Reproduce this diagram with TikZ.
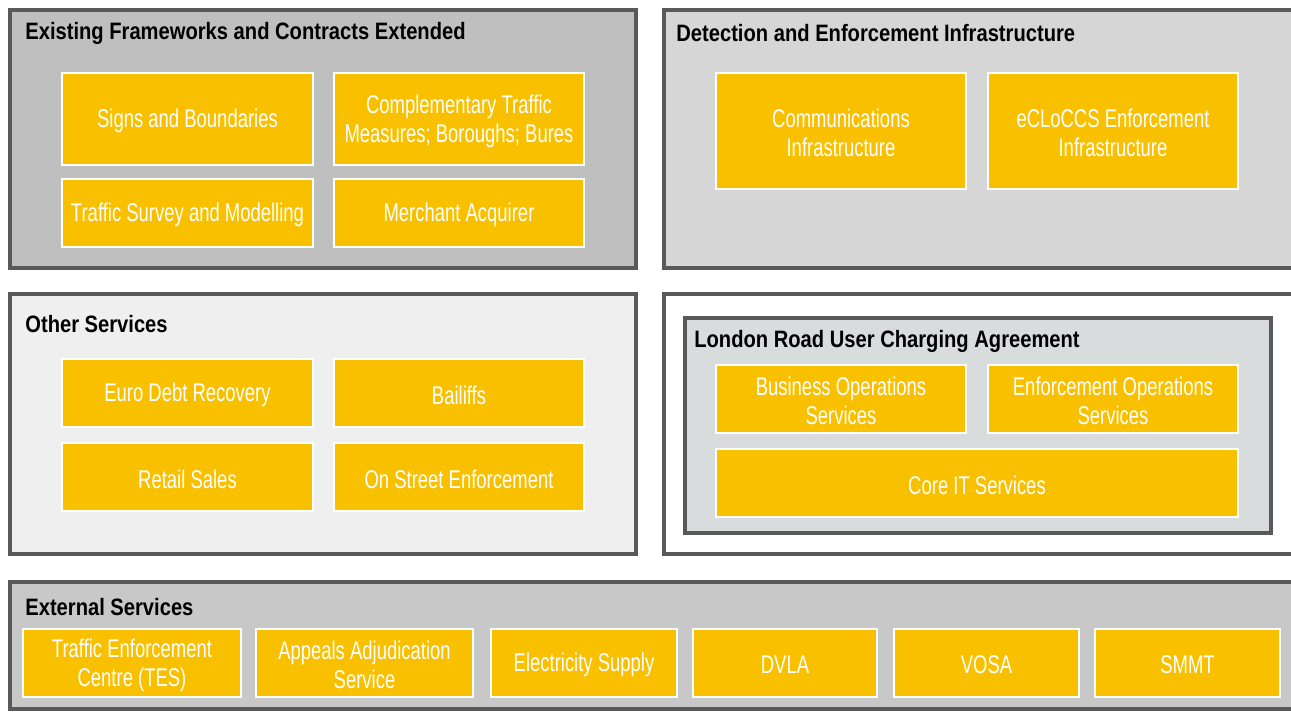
\documentclass[tikz,border=0pt]{standalone}
\usepackage{fontspec}
\setmainfont[FakeStretch=0.72]{Liberation Sans}
\newfontfamily\titlefont[FakeStretch=0.85]{Liberation Sans}
\usepackage{tikz}
\definecolor{frame}{HTML}{595959}
\definecolor{boxyellow}{HTML}{F9C000}
\definecolor{panelexisting}{HTML}{BFBFBF}
\definecolor{paneldetect}{HTML}{D6D6D6}
\definecolor{panelother}{HTML}{EFEFEF}
\definecolor{panellondon}{HTML}{D9DCDD}
\definecolor{panelexternal}{HTML}{C8C8C8}
\tikzset{panel/.style={draw=frame, line width=2.8pt},
         ybox/.style={draw=white, line width=1.2pt, fill=boxyellow},
         ytext/.style={text=white, align=center, inner sep=0pt, yshift=-1.2pt,
                       font=\fontsize{14.6}{16.5}\selectfont},
         title/.style={anchor=west, inner sep=0pt,
                       font=\titlefont\bfseries\fontsize{13.5}{15}\selectfont}}

\begin{document}
\begin{tikzpicture}[x=0.02cm,y=-0.02cm]
        \useasboundingbox (0,0) rectangle (1291,711);

        % Existing frameworks
        \draw[panel, fill=panelexisting] (10,10) rectangle (636,268);
        \node[title] (existing) at (25,33) {Existing Frameworks and Contracts Extended};
        \draw[ybox] (62,73) rectangle (313,165) node[midway, ytext] (signs) {Signs and Boundaries};
        \draw[ybox] (334,73) rectangle (584,165) node[midway, ytext] (compl) {Complementary Traffic\\Measures; Boroughs; Bures};
        \draw[ybox] (62,179) rectangle (313,247) node[midway, ytext] (survey) {Traffic Survey and Modelling};
        \draw[ybox] (334,179) rectangle (584,247) node[midway, ytext] (merchant) {Merchant Acquirer};

        % Detection and enforcement
        \draw[panel, fill=paneldetect] (664,10) rectangle (1293,268);
        \node[title] (detect) at (676,33) {Detection and Enforcement Infrastructure};
        \draw[ybox] (716,73) rectangle (966,189) node[midway, ytext] (comms) {Communications\\Infrastructure};
        \draw[ybox] (988,73) rectangle (1238,189) node[midway, ytext] (ecloccs) {eCLoCCS Enforcement\\Infrastructure};

        % Other services
        \draw[panel, fill=panelother] (10,294) rectangle (636,554);
        \node[title] (other) at (25,324) {Other Services};
        \draw[ybox] (62,359) rectangle (313,427) node[midway, ytext] (euro) {Euro Debt Recovery};
        \draw[ybox] (334,359) rectangle (584,427) node[midway, ytext] (bailiffs) {Bailiffs};
        \draw[ybox] (62,443) rectangle (313,511) node[midway, ytext] (retail) {Retail Sales};
        \draw[ybox] (334,443) rectangle (584,511) node[midway, ytext] (onstreet) {On Street Enforcement};

        % London road user charging
        \draw[panel, fill=white] (664,294) rectangle (1293,554);
        \draw[panel, fill=panellondon] (685,318) rectangle (1271,533);
        \node[title] (london) at (694,341) {London Road User Charging Agreement};
        \draw[ybox] (716,365) rectangle (966,433) node[midway, ytext] (business) {Business Operations\\Services};
        \draw[ybox] (988,365) rectangle (1238,433) node[midway, ytext] (enforce) {Enforcement Operations\\Services};
        \draw[ybox] (716,449) rectangle (1238,517) node[midway, ytext] (coreit) {Core IT Services};

        % External services
        \draw[panel, fill=panelexternal] (10,582) rectangle (1293,709);
        \node[title] (external) at (25,607) {External Services};
        \draw[ybox] (23,629) rectangle (241,697) node[midway, ytext] (tes) {Traffic Enforcement\\Centre (TES)};
        \draw[ybox] (256,629) rectangle (473,697) node[midway, ytext] (appeals) {Appeals Adjudication\\Service};
        \draw[ybox] (491,629) rectangle (677,697) node[midway, ytext] (elec) {Electricity Supply};
        \draw[ybox] (693,629) rectangle (877,697) node[midway, ytext] (dvla) {DVLA};
        \draw[ybox] (894,629) rectangle (1079,697) node[midway, ytext] (vosa) {VOSA};
        \draw[ybox] (1095,629) rectangle (1280,697) node[midway, ytext] (smmt) {SMMT};

\end{tikzpicture}
\end{document}
